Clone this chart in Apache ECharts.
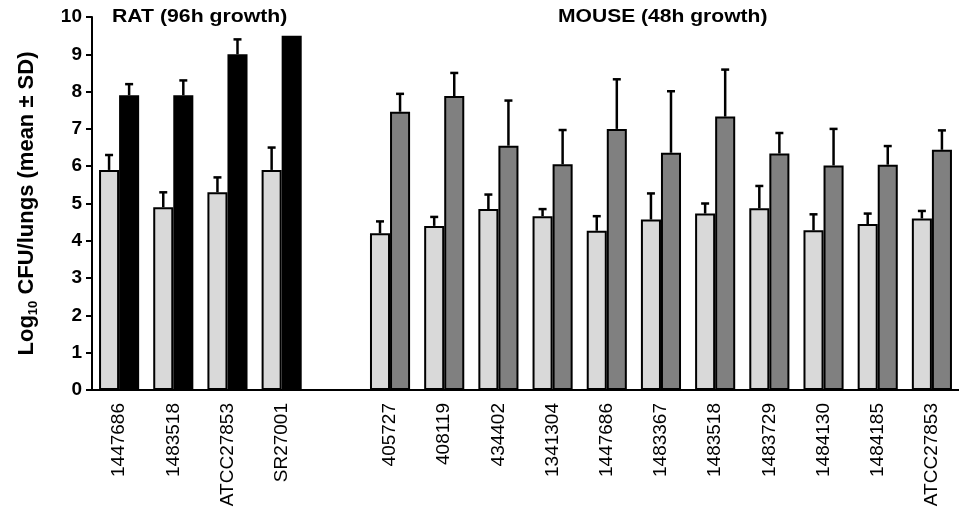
<!DOCTYPE html>
<html>
<head>
<meta charset="utf-8">
<script src="https://cdn.jsdelivr.net/npm/echarts@6/dist/echarts.min.js"></script>
<style>
  html, body { margin: 0; padding: 0; background: #fff; }
  #chart { width: 959px; height: 522px; }
</style>
</head>
<body>
<div id="chart"></div>
<script>
// strains (empty slot separates rat and mouse groups)
var categories = ['1447686', '1483518', 'ATCC27853', 'SR27001', '',
  '405727', '408119', '434402', '1341304', '1447686', '1483367',
  '1483518', '1483729', '1484130', '1484185', 'ATCC27853']

// light bars (initial) and their SD
var lightMean = [5.9, 4.9, 5.3, 5.9, null, 4.2, 4.4, 4.85, 4.66, 4.27, 4.57, 4.73, 4.87, 4.28, 4.45, 4.6]
var lightSd = [0.4, 0.4, 0.4, 0.6, null, 0.32, 0.24, 0.39, 0.19, 0.39, 0.7, 0.27, 0.6, 0.43, 0.28, 0.2]

// dark bars (after growth) and their SD
var darkMean = [7.9, 7.9, 9.0, 9.5, null, 7.46, 7.88, 6.55, 6.05, 7.0, 6.36, 7.33, 6.34, 6.02, 6.04, 6.44]
var darkSd = [0.3, 0.4, 0.4, null, null, 0.48, 0.62, 1.21, 0.92, 1.33, 1.65, 1.26, 0.55, 0.98, 0.5, 0.52]

var yTicks = [0, 1, 2, 3, 4, 5, 6, 7, 8, 9, 10]

var font = 'Liberation Sans, Arial, sans-serif'
var catGap = 0.26

function errData(mean, sd) {
  var out = []
  for (var i = 0; i < mean.length; i++) {
    if (mean[i] == null || sd[i] == null) continue
    out.push([i, mean[i], mean[i] + sd[i]])
  }
  return out
}

function errRender(side) {
  return function (params, api) {
    var band = api.size([1, 0])[0]
    var bw = band * (1 - catGap) / 2
    var base = api.coord([api.value(0), api.value(1)])
    var top = api.coord([api.value(0), api.value(2)])
    var x = base[0] + side * bw / 2
    var st = { stroke: '#000', lineWidth: 2.5 }
    return {
      type: 'group',
      children: [
        { type: 'line', shape: { x1: x, y1: base[1], x2: x, y2: top[1] }, style: st },
        { type: 'line', shape: { x1: x - 4, y1: top[1], x2: x + 4, y2: top[1] }, style: st }
      ]
    }
  }
}

var myChart = echarts.init(document.getElementById('chart'))
myChart.setOption({
  backgroundColor: '#fff',
  animation: false,
  grid: { left: 92, right: -6, top: 17, bottom: 132 },
  graphic: [
    { type: 'text', x: 112, y: 8, scaleX: 1.18, style: { text: 'RAT (96h growth)', font: 'bold 18px ' + font, fill: '#000' } },
    { type: 'text', x: 558, y: 8, scaleX: 1.17, style: { text: 'MOUSE (48h growth)', font: 'bold 18px ' + font, fill: '#000' } }
  ],
  xAxis: {
    type: 'category',
    data: categories,
    axisLine: { lineStyle: { color: '#000', width: 2 } },
    axisTick: { length: 6, lineStyle: { color: '#000', width: 2 } },
    axisLabel: {
      interval: 0,
      rotate: 90,
      margin: 13,
      color: '#000',
      fontSize: 19,
      fontFamily: font
    }
  },
  yAxis: {
    type: 'value',
    min: yTicks[0],
    max: yTicks[yTicks.length - 1],
    interval: 1,
    splitLine: { show: false },
    axisLine: { show: true, lineStyle: { color: '#000', width: 2 } },
    axisTick: { show: true, length: 6, lineStyle: { color: '#000', width: 2 } },
    axisLabel: { margin: 10, color: '#000', fontSize: 19, fontWeight: 'bold', fontFamily: font },
    name: '{a|Log}{s|10}{a| CFU/lungs (mean ± SD)}',
    nameLocation: 'middle',
    nameGap: 52,
    nameTextStyle: {
      rich: {
        a: { fontSize: 22, fontWeight: 'bold', fontFamily: font, color: '#000', lineHeight: 26 },
        s: { fontSize: 13, fontWeight: 'bold', fontFamily: font, color: '#000', lineHeight: 26, verticalAlign: 'bottom', padding: [9, 0, 0, 0] }
      }
    }
  },
  series: [
    {
      name: 'light',
      type: 'bar',
      data: lightMean,
      barGap: '0%',
      barCategoryGap: (catGap * 100) + '%',
      itemStyle: { color: '#d9d9d9', borderColor: '#000', borderWidth: 2 }
    },
    {
      name: 'dark',
      type: 'bar',
      data: darkMean,
      barGap: '0%',
      barCategoryGap: (catGap * 100) + '%',
      itemStyle: {
        color: function (p) { return p.dataIndex < 4 ? '#000' : '#808080' },
        borderColor: '#000',
        borderWidth: 2
      }
    },
    {
      type: 'custom',
      renderItem: errRender(-1),
      data: errData(lightMean, lightSd),
      encode: { x: 0, y: [1, 2] },
      z: 3
    },
    {
      type: 'custom',
      renderItem: errRender(1),
      data: errData(darkMean, darkSd),
      encode: { x: 0, y: [1, 2] },
      z: 3
    }
  ]
})
</script>
</body>
</html>
